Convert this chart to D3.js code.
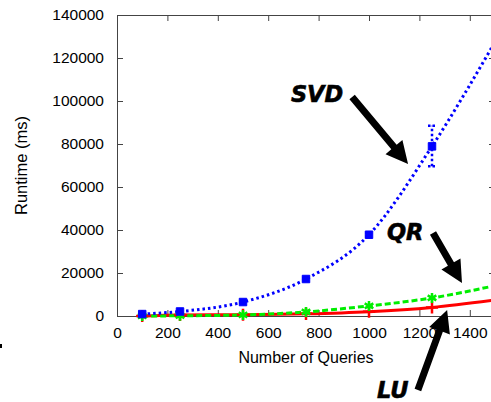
<!DOCTYPE html>
<html>
<head>
<meta charset="utf-8">
<script src="https://cdn.jsdelivr.net/npm/d3@7"></script>
<style>
  body { margin: 0; background: #fff; }
  svg { display: block; }
</style>
</head>
<body>
<div id="chart"></div>
<script>
// data
const queries = [100, 250, 500, 750, 1000, 1250];
const svd = [900, 2100, 6500, 17200, 37800, 78900];
const svdLow = [800, 1900, 6100, 16600, 37000, 69600];
const svdHigh = [1000, 2300, 6900, 17800, 38600, 88500];
const qr = [0, 100, 500, 1900, 4700, 8400];
const lu = [0, 500, 600, 1000, 2000, 4000];

// where the lines leave the plot on the right
const tailQuery = 1500;
const svdTail = 127500;
const qrTail = 14100;
const luTail = 7450;

const xTicks = [0, 200, 400, 600, 800, 1000, 1200, 1400];
const yTicks = [0, 20000, 40000, 60000, 80000, 100000, 120000, 140000];

// annotations, in data units
const notes = [
    {label: "SVD", lx: 690, ly: 99500, from: [933, 101900], to: [1155, 70700]},
    {label: "QR", lx: 1071, ly: 35350, from: [1254, 38600], to: [1369, 15350]},
    {label: "LU", lx: 1032, ly: -38140, from: [1194, -34400], to: [1310, 2790]}
];

const width = 491, height = 402;
const margin = {top: 15, left: 117, bottom: 86, right: -4};

const svg = d3.select("#chart").append("svg")
    .attr("width", width)
    .attr("height", height);

const x = d3.scaleLinear().domain([0, 1500]).range([margin.left, width - margin.right]);
const y = d3.scaleLinear().domain([0, 140000]).range([height - margin.bottom, margin.top]);

const font = "'Liberation Sans', Arial, Helvetica, sans-serif";

// axes, ticks pointing inward on all four sides
function styleAxis(g) {
    g.selectAll(".domain").attr("stroke", "#444");
    g.selectAll(".tick line").attr("stroke", "#444");
    g.selectAll("text").attr("font-family", font).attr("font-size", 15.5).attr("fill", "#000");
}

svg.append("g")
    .attr("transform", `translate(0,${y(0)})`)
    .call(d3.axisBottom(x).tickValues(xTicks).tickSizeInner(-6).tickSizeOuter(0).tickPadding(11)
        .tickFormat(d3.format("d")))
    .call(styleAxis);

svg.append("g")
    .attr("transform", `translate(0,${y(140000)})`)
    .call(d3.axisTop(x).tickValues(xTicks).tickSizeInner(-6).tickSizeOuter(0).tickFormat(""))
    .call(styleAxis);

svg.append("g")
    .attr("transform", `translate(${x(0)},0)`)
    .call(d3.axisLeft(y).tickValues(yTicks).tickSizeInner(-6).tickSizeOuter(0).tickPadding(13)
        .tickFormat(d3.format("d")))
    .call(styleAxis);

svg.append("g")
    .attr("transform", `translate(${x(1500)},0)`)
    .call(d3.axisRight(y).tickValues(yTicks).tickSizeInner(-6).tickSizeOuter(0).tickFormat(""))
    .call(styleAxis);

// axis titles
svg.append("text")
    .attr("x", (x(0) + x(1500)) / 2)
    .attr("y", 363)
    .attr("text-anchor", "middle")
    .attr("font-family", font)
    .attr("font-size", 16)
    .text("Number of Queries");

svg.append("text")
    .attr("transform", `translate(27,${(y(0) + y(140000)) / 2}) rotate(-90)`)
    .attr("text-anchor", "middle")
    .attr("font-family", font)
    .attr("font-size", 16.5)
    .text("Runtime (ms)");

// series
const series = [
    {name: "LU", values: lu, tail: luTail, color: "#ff0000", dash: null, marker: "plus"},
    {name: "QR", values: qr, tail: qrTail, color: "#00ee00", dash: "6,3", marker: "star"},
    {name: "SVD", values: svd, tail: svdTail, color: "#0000ff", dash: "2.5,3", marker: "square"}
];

const line = d3.line()
    .x(d => x(d[0]))
    .y(d => y(d[1]))
    .curve(d3.curveMonotoneX);

series.forEach(s => {
    const pts = queries.map((q, i) => [q, s.values[i]]).concat([[tailQuery, s.tail]]);
    svg.append("path")
        .datum(pts)
        .attr("fill", "none")
        .attr("stroke", s.color)
        .attr("stroke-width", 3)
        .attr("stroke-dasharray", s.dash)
        .attr("d", line);
});

// SVD error bars
svg.append("g")
    .selectAll("g")
    .data(queries.map((q, i) => ({q, lo: svdLow[i], hi: svdHigh[i]})))
    .join("g")
    .each(function (d) {
        const g = d3.select(this);
        g.append("line")
            .attr("x1", x(d.q)).attr("x2", x(d.q))
            .attr("y1", y(d.lo)).attr("y2", y(d.hi))
            .attr("stroke", "#0000ff").attr("stroke-width", 2.5)
            .attr("stroke-dasharray", "2.5,2.5");
        [d.lo, d.hi].forEach(v => {
            g.append("line")
                .attr("x1", x(d.q) - 4).attr("x2", x(d.q) + 4)
                .attr("y1", y(v)).attr("y2", y(v))
                .attr("stroke", "#0000ff").attr("stroke-width", 2.5)
                .attr("stroke-dasharray", "2.5,2");
        });
    });

// markers
const symbolFor = {
    square: d3.symbol().type(d3.symbolSquare).size(56),
    star: d3.symbol().type(d3.symbolAsterisk).size(70),
    plus: d3.symbol().type(d3.symbolPlus).size(50)
};

series.forEach(s => {
    svg.append("g")
        .selectAll("path")
        .data(queries.map((q, i) => [q, s.values[i]]))
        .join("path")
        .attr("transform", d => `translate(${x(d[0])},${y(d[1])})`)
        .attr("d", symbolFor[s.marker])
        .attr("fill", s.marker === "square" ? s.color : "none")
        .attr("stroke", s.color)
        .attr("stroke-width", s.marker === "square" ? 1 : 2.5);
});

// annotations with big black arrows
function arrowPath(x0, y0, x1, y1) {
    const dx = x1 - x0, dy = y1 - y0;
    const len = Math.hypot(dx, dy);
    const ux = dx / len, uy = dy / len;
    const nx = -uy, ny = ux;
    const shaft = 3.5, head = 11, headLen = 22;
    const bx = x1 - ux * headLen, by = y1 - uy * headLen;
    const p = [
        [x0 + nx * shaft, y0 + ny * shaft],
        [bx + nx * shaft, by + ny * shaft],
        [bx + nx * head, by + ny * head],
        [x1, y1],
        [bx - nx * head, by - ny * head],
        [bx - nx * shaft, by - ny * shaft],
        [x0 - nx * shaft, y0 - ny * shaft]
    ];
    return "M" + p.map(d => d.join(",")).join("L") + "Z";
}

const ann = svg.append("g");
notes.forEach(n => {
    ann.append("path")
        .attr("d", arrowPath(x(n.from[0]), y(n.from[1]), x(n.to[0]), y(n.to[1])))
        .attr("fill", "#000");
    ann.append("text")
        .attr("x", x(n.lx))
        .attr("y", y(n.ly))
        .attr("font-family", "'DejaVu Sans', Verdana, sans-serif")
        .attr("font-weight", "bold")
        .attr("font-style", "italic")
        .attr("font-size", 22.5)
        .attr("stroke", "#000")
        .attr("stroke-width", 0.6)
        .text(n.label);
});

// stray mark at the left edge of the original figure
svg.append("rect")
    .attr("x", 0).attr("y", 344)
    .attr("width", 2).attr("height", 4)
    .attr("fill", "#000");
</script>
</body>
</html>
